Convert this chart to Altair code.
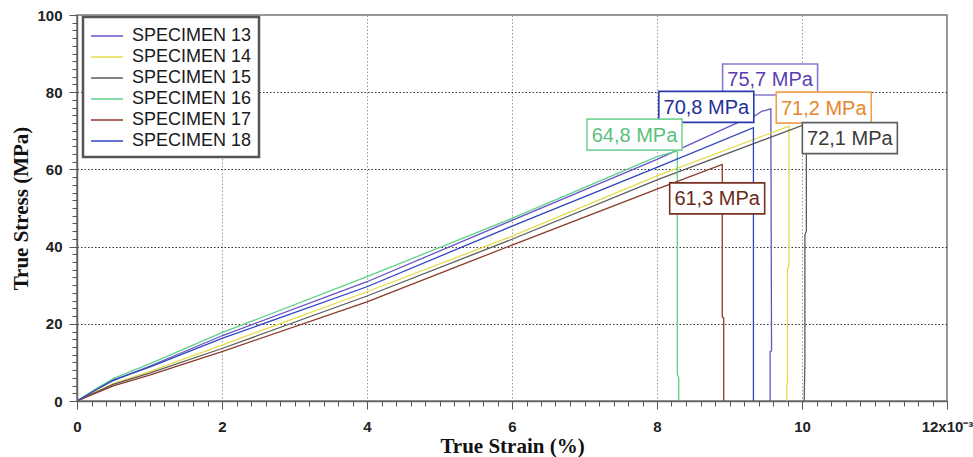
import altair as alt
import pandas as pd

# ---------------- data ----------------
specimens = ["SPECIMEN 13", "SPECIMEN 14", "SPECIMEN 15", "SPECIMEN 16", "SPECIMEN 17", "SPECIMEN 18"]
line_colors = ["#6a50c8", "#e4dc4a", "#5c5c5c", "#5fd08a", "#8a3a2a", "#2f45c0"]

s13_strain = [0, 0.25, 0.5, 1, 2, 4, 6, 8, 9.09, 9.3, 9.37, 9.44, 9.57, 9.58, 9.56, 9.56]
s13_stress = [0, 2.8, 5.3, 9.0, 16.9, 30.9, 46.8, 62.6, 71.9, 73.5, 74.1, 75.0, 75.7, 13, 12.8, 0]

s14_strain = [0, 0.25, 0.5, 1, 2, 4, 6, 8, 9.82, 9.82, 9.80, 9.80, 9.79, 9.79]
s14_stress = [0, 2.3, 4.5, 7.6, 14.5, 28.3, 42.7, 58.3, 71.2, 34.8, 34.5, 4.7, 4.5, 0]

s15_strain = [0, 0.25, 0.5, 1, 2, 4, 6, 8, 10.06, 10.06, 10.04, 10.04, 10.03]
s15_stress = [0, 2.2, 4.3, 7.2, 13.6, 27.2, 41.9, 57.3, 71.8, 44, 43, 10, 0]

s16_strain = [0, 0.25, 0.5, 1, 2, 4, 6, 8, 8.28, 8.28, 8.30, 8.30]
s16_stress = [0, 3.0, 5.8, 9.6, 17.7, 32.2, 47.3, 63.3, 64.8, 7, 6, 0]

s17_strain = [0, 0.25, 0.5, 1, 2, 4, 6, 8, 8.90, 8.90, 8.92, 8.92]
s17_stress = [0, 2.0, 3.9, 6.7, 12.8, 25.7, 40.4, 54.9, 61.3, 21.8, 21.5, 0]

s18_strain = [0, 0.25, 0.5, 1, 2, 4, 6, 8, 9.33, 9.33]
s18_stress = [0, 2.8, 5.4, 8.8, 16.2, 29.6, 45.3, 60.5, 70.8, 0]

label_text = ["75,7 MPa", "70,8 MPa", "71,2 MPa", "72,1 MPa", "64,8 MPa", "61,3 MPa"]
label_x = [9.56, 8.68, 10.30, 10.66, 7.69, 8.83]
label_y = [83.3, 76.2, 76.0, 68.1, 69.0, 52.5]
label_text_color = ["#5a3fb0", "#1f2f9a", "#e8862a", "#3a3a3a", "#5cc07c", "#6a2a1a"]
label_box_color = ["#8a78d0", "#2a3aa8", "#f0a050", "#5a6060", "#7cd49a", "#7a3020"]

x_major = [0, 2, 4, 6, 8, 10, 12]
x_minor = [round(k * 0.2, 1) for k in range(0, 61)]
x_grid = [2, 4, 6, 8, 10]
y_major = [0, 20, 40, 60, 80, 100]
y_minor = list(range(0, 101, 2))
y_grid = [20, 40, 60, 80]

# ---------------- frames ----------------
series = [
    (specimens[0], s13_strain, s13_stress),
    (specimens[1], s14_strain, s14_stress),
    (specimens[2], s15_strain, s15_stress),
    (specimens[3], s16_strain, s16_stress),
    (specimens[4], s17_strain, s17_stress),
    (specimens[5], s18_strain, s18_stress),
]
rows = []
for name, xs, ys in series:
    for i, (a, b) in enumerate(zip(xs, ys)):
        rows.append({"specimen": name, "strain": a, "stress": b, "idx": i})
df = pd.DataFrame(rows)

BOX_W = 1.31
BOX_H = 8.03
lab = pd.DataFrame({
    "text": label_text, "x": label_x, "y": label_y,
    "tc": label_text_color, "bc": label_box_color,
})
lab["x1"] = lab["x"] - BOX_W / 2
lab["x2"] = lab["x"] + BOX_W / 2
lab["y1"] = lab["y"] - BOX_H / 2
lab["y2"] = lab["y"] + BOX_H / 2

xscale = alt.Scale(domain=[0, 12], nice=False, zero=False)
yscale = alt.Scale(domain=[0, 100], nice=False, zero=False)

# main axes (labels, major ticks, titles)
x_axis_main = alt.Axis(
    orient="bottom", values=x_major,
    title="True Strain (%)",
    titleFont="Liberation Serif", titleFontSize=21, titleFontWeight="bold",
    titleColor="#111", titlePadding=1,
    labelExpr="datum.value === 12 ? '12x10⁻³' : format(datum.value, 'd')",
    labelFont="Liberation Sans", labelFontSize=15, labelFontWeight="bold",
    labelColor="#222", labelPadding=10, labelOverlap=False, labelFlush=False,
    tickSize=8, tickColor="#555", tickWidth=1,
    domainColor="#666", domainWidth=1.5, grid=False, zindex=2,
)
y_axis_main = alt.Axis(
    orient="left", values=y_major,
    title="True Stress (MPa)",
    titleFont="Liberation Serif", titleFontSize=21, titleFontWeight="bold",
    titleColor="#111", titlePadding=5,
    labelFont="Liberation Sans", labelFontSize=15, labelFontWeight="bold",
    labelColor="#222", labelPadding=7, labelOverlap=False, labelFlush=False,
    tickSize=8, tickColor="#555", tickWidth=1,
    domainColor="#666", domainWidth=1.5, grid=False, zindex=2,
)
# minor tick axes
x_axis_minor = alt.Axis(
    orient="bottom", values=x_minor, title=None, labels=False, domain=False,
    grid=False, tickSize=5, tickColor="#555", tickWidth=1, zindex=2,
)
y_axis_minor = alt.Axis(
    orient="left", values=y_minor, title=None, labels=False, domain=False,
    grid=False, tickSize=5, tickColor="#555", tickWidth=1, zindex=2,
)
# grid axes
x_axis_grid = alt.Axis(
    orient="bottom", values=x_grid, title=None, labels=False, domain=False,
    ticks=False, grid=True, gridColor="#999", gridDash=[1.5, 2], gridWidth=1,
)
y_axis_grid = alt.Axis(
    orient="left", values=y_grid, title=None, labels=False, domain=False,
    ticks=False, grid=True, gridColor="#333", gridDash=[1.5, 2], gridWidth=1,
)

lines = alt.Chart(df).mark_line(strokeWidth=1.3, clip=True).encode(
    x=alt.X("strain:Q", scale=xscale, axis=x_axis_main),
    y=alt.Y("stress:Q", scale=yscale, axis=y_axis_main),
    color=alt.Color(
        "specimen:N",
        scale=alt.Scale(domain=specimens, range=line_colors),
        legend=alt.Legend(
            title=None, orient="none", legendX=6, legendY=2,
            symbolType="M-1.43,0H1.43", symbolSize=500, symbolStrokeWidth=1.5,
            symbolOffset=5,
            labelFont="Liberation Sans", labelFontSize=18, labelColor="#1a1a1a",
            labelOffset=13, padding=7, rowPadding=0,
            strokeColor="#555", fillColor="white", cornerRadius=0,
        ),
    ),
    order="idx:Q",
    detail="specimen:N",
)

boxes = alt.Chart(lab).mark_rect(fill="white", strokeWidth=1.6).encode(
    x=alt.X("x1:Q", scale=xscale, axis=x_axis_minor),
    x2="x2:Q",
    y=alt.Y("y1:Q", scale=yscale, axis=y_axis_minor),
    y2="y2:Q",
    stroke=alt.Stroke("bc:N", scale=None),
)

texts = alt.Chart(lab).mark_text(
    font="Liberation Sans", fontSize=20, align="center", baseline="middle", dy=1
).encode(
    x=alt.X("x:Q", scale=xscale, axis=x_axis_grid),
    y=alt.Y("y:Q", scale=yscale, axis=y_axis_grid),
    text="text:N",
    color=alt.Color("tc:N", scale=None),
)

chart = alt.layer(lines, boxes, texts).resolve_axis(
    x="independent", y="independent"
).properties(
    width=870, height=386,
    autosize=alt.AutoSizeParams(type="none"),
    padding={"left": 77, "top": 15, "right": 26, "bottom": 56},
    background="white",
).configure_view(
    stroke="#777", strokeWidth=1.5,
).configure_legend(
    strokeWidth=2.5,
)

chart.save("out.html", embed_options={"renderer": "svg", "actions": False})
